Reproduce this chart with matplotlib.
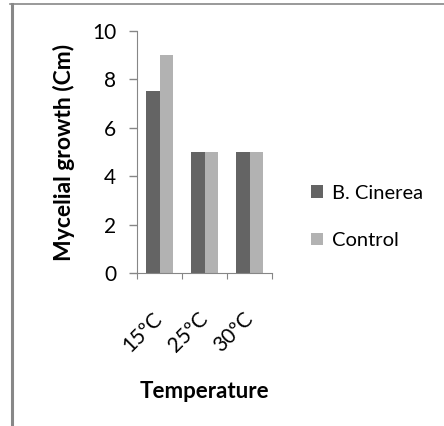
import matplotlib
matplotlib.use("Agg")
import matplotlib.pyplot as plt
import numpy as np
from matplotlib.lines import Line2D

# data
temps = ["15ºC", "25ºC", "30ºC"]
cinerea = [7.5, 5, 5]
control = [9, 5, 5]
yticks = [0, 2, 4, 6, 8, 10]

plt.rcParams['font.family'] = ['Lato', 'DejaVu Sans']

W, H = 444, 426
fig = plt.figure(figsize=(W / 100, H / 100), dpi=100)
ax = fig.add_axes([137 / W, 1 - 273 / H, 135 / W, 242 / H])

x = np.arange(len(temps))
bw = 0.3
ax.bar(x - bw / 2, cinerea, bw, color='#646464', label='B. Cinerea')
ax.bar(x + bw / 2, control, bw, color='#b2b2b2', label='Control')

ax.set_xlim(-0.5, len(temps) - 0.5)
ax.set_ylim(0, 10)
ax.set_yticks(yticks)
ax.tick_params(axis='y', length=6, width=1, color='#868686', pad=9, labelsize=15)

# category ticks sit between groups, labels at group centres
ax.set_xticks(np.arange(len(temps) + 1) - 0.5)
ax.set_xticklabels([])
ax.tick_params(axis='x', which='major', length=4, color='#868686')
ax.set_xticks(x, minor=True)
ax.set_xticklabels(temps, minor=True, rotation=45, ha='right', va='center',
                   rotation_mode='anchor', fontsize=15)
ax.tick_params(axis='x', which='minor', length=0, pad=31)

for s in ['top', 'right']:
    ax.spines[s].set_visible(False)
for s in ['left', 'bottom']:
    ax.spines[s].set_color('#868686')

ax.set_ylabel('Mycelial growth (Cm)', fontsize=16.5, fontweight='bold', labelpad=12)
ax.set_xlabel('Temperature', fontsize=16, fontweight='bold', labelpad=18)

fig.legend(loc='center left', bbox_to_anchor=(311 / W, 1 - 217 / H),
           frameon=False, fontsize=14.5, handlelength=0.6, handleheight=0.6,
           handletextpad=0.45, labelspacing=1.5, borderpad=0, borderaxespad=0)

# frame lines on left and top edges
fig.add_artist(Line2D([11.5 / W, 11.5 / W], [0, 1 - 4 / H], color='#888888', lw=2.2))
fig.add_artist(Line2D([10 / W, 1], [1 - 4 / H, 1 - 4 / H], color='#888888', lw=1.2))

fig.savefig('out.png', dpi=100)
